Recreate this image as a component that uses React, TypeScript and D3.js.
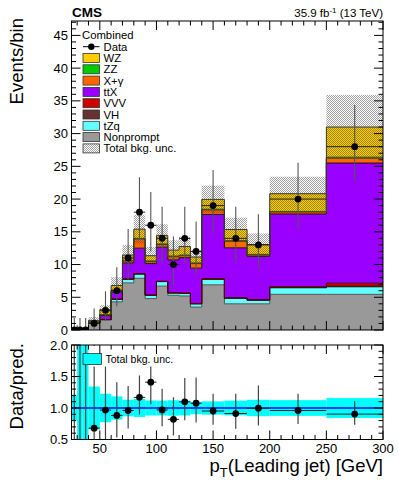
import React from 'react';
import * as d3 from 'd3';

// Bin edges (GeV)
const binEdges = [25, 30, 35, 40, 50, 60, 70, 80, 90, 100, 110, 120, 130, 140, 160, 180, 200, 250, 300];

// Observed data
const dataCounts = [0, 0, 0, 1, 3, 6, 11, 18, 16, 14, 10, 14, 12, 19, 14, 13, 20, 28];
const dataErrLow = [0, 0, 0, 0.17, 1.37, 3.62, 7.72, 13.79, 12.03, 10.29, 6.88, 10.29, 8.57, 14.67, 10.29, 9.43, 15.56, 22.73];
const dataErrHigh = [1.84, 1.84, 1.84, 3.3, 5.92, 9.58, 15.43, 23.33, 21.09, 18.84, 14.28, 18.84, 16.57, 24.44, 18.84, 17.7, 25.56, 34.36];

// Background processes (stack order bottom -> top)
const nonprompt = [0.1, 0.03, 0.03, 1.0, 1.5, 4.3, 7.2, 7.9, 4.8, 6.7, 5.3, 5.2, 3.5, 6.9, 4.0, 4.0, 5.45, 5.45];
const tZq = [0, 0, 0, 0.1, 0.1, 0.4, 0.55, 0.65, 0.5, 0.7, 0.35, 0.4, 0.5, 0.85, 0.85, 0.55, 1.0, 1.15];
const VH = [0, 0, 0, 0, 0, 0, 0, 0, 0, 0, 0, 0, 0, 0, 0, 0, 0.05, 0.1];
const VVV = [0, 0, 0, 0, 0, 0, 0.05, 0.05, 0.05, 0.05, 0.05, 0.05, 0.05, 0.1, 0.1, 0.1, 0.12, 0.45];
const ttX = [0, 0, 0, 0.1, 0.6, 1.1, 2.45, 3.9, 4.8, 5.2, 5.0, 5.4, 5.4, 9.8, 7.6, 6.6, 11.1, 18.35];
const Xgamma = [0, 0, 0, 0, 0.1, 0.2, 0.3, 1.4, 0.3, 0.4, 0.5, 0.3, 0.7, 0.7, 1.0, 0.2, 0.3, 0.75];
const ZZ = [0, 0, 0, 0.02, 0.05, 0.1, 0.1, 0.1, 0.1, 0.1, 0.1, 0.1, 0.1, 0.1, 0.1, 0.1, 0.1, 0.15];
const WZ = [0, 0, 0, 0.25, 0.75, 0.7, 0.8, 1.4, 0.8, 1.3, 0.9, 1.3, 0.9, 1.5, 1.7, 1.5, 2.7, 4.6];
const totalUnc = [0.02, 0.08, 0.08, 0.5, 0.7, 1.25, 1.5, 2.2, 1.35, 1.7, 1.5, 1.5, 1.1, 2.1, 1.8, 1.7, 2.6, 4.9];

const yTickLabelsTop = [0, 5, 10, 15, 20, 25, 30, 35, 40, 45];
const yTickLabelsRatio = ['0.5', '1.0', '1.5', '2.0'];
const xTickLabels = [50, 100, 150, 200, 250, 300];

const legendNames = ['WZ', 'ZZ', 'X+\u03b3', 'ttX', 'VVV', 'VH', 'tZq', 'Nonprompt'];

const FONT = "'Liberation Sans', Arial, Helvetica, sans-serif";

export default function App() {
  const W = 399, H = 483;
  const L = 71.5, R = 383, T1 = 21, B1 = 330, T2 = 345, B2 = 439.5;
  const n = binEdges.length - 1;

  const x = d3.scaleLinear().domain([25, 300]).range([L, R]);
  const y = d3.scaleLinear().domain([0, 47.2]).range([B1, T1]);
  const yr = d3.scaleLinear().domain([0.5, 2.0]).range([B2, T2]);

  const layerDefs = [
    { name: 'Nonprompt', values: nonprompt, color: '#999999', line: '#555555' },
    { name: 'tZq', values: tZq, color: '#66ffff', line: '#111111' },
    { name: 'VH', values: VH, color: '#663333', line: '#331111' },
    { name: 'VVV', values: VVV, color: '#cc0000', line: '#550000' },
    { name: 'ttX', values: ttX, color: '#9900ff', line: '#111111' },
    { name: 'X+\u03b3', values: Xgamma, color: '#ff6600', line: '#553300' },
    { name: 'ZZ', values: ZZ, color: '#00cc00', line: '#335500' },
    { name: 'WZ', values: WZ, color: '#ffcc00', line: '#333333' },
  ];
  let cum = d3.range(n).map(() => 0);
  const stacked = layerDefs.map((l) => {
    const lo = cum;
    const hi = cum.map((c, i) => c + l.values[i]);
    cum = hi;
    return { ...l, lo, hi };
  });
  const total = cum;

  const idx = d3.range(binEdges.length);
  const ci = (i: number) => Math.min(i, n - 1);
  const stepArea = (lo: number[], hi: number[]) =>
    d3.area<number>()
      .x((i) => x(binEdges[i]))
      .y0((i) => y(lo[ci(i)]))
      .y1((i) => y(hi[ci(i)]))
      .curve(d3.curveStepAfter)(idx) || '';
  const stepLine = (hi: number[]) =>
    d3.line<number>()
      .x((i) => x(binEdges[i]))
      .y((i) => y(hi[ci(i)]))
      .curve(d3.curveStepAfter)(idx) || '';

  const bins = d3.range(n);
  const center = (i: number) => (binEdges[i] + binEdges[i + 1]) / 2;

  // tick positions
  const xMinor = d3.range(30, 301, 10);
  const xMajor = d3.range(50, 301, 50);
  const yMinorTop = d3.range(0, 48, 1);
  const yMinorR = d3.range(0.5, 2.001, 0.1);
  const yMajorR = d3.range(0.5, 2.001, 0.5);

  const tickLines: JSX.Element[] = [];
  const addXTicks = (top: number, bottom: number, key: string) => {
    xMinor.forEach((v) => {
      const major = xMajor.includes(v);
      const len = major ? 9 : 4.5;
      tickLines.push(<line key={`${key}b${v}`} x1={x(v)} x2={x(v)} y1={bottom} y2={bottom - len} stroke="#000" strokeWidth={1} />);
      tickLines.push(<line key={`${key}t${v}`} x1={x(v)} x2={x(v)} y1={top} y2={top + len} stroke="#000" strokeWidth={1} />);
    });
  };
  addXTicks(T1, B1, 'p1');
  addXTicks(T2, B2, 'p2');
  yMinorTop.forEach((v) => {
    const major = v % 5 === 0;
    const len = major ? 9 : 4.5;
    tickLines.push(<line key={`yl${v}`} x1={L} x2={L + len} y1={y(v)} y2={y(v)} stroke="#000" />);
    tickLines.push(<line key={`yr${v}`} x1={R} x2={R - len} y1={y(v)} y2={y(v)} stroke="#000" />);
  });
  yMinorR.forEach((v, k) => {
    const major = yMajorR.some((m) => Math.abs(m - v) < 1e-6);
    const len = major ? 9 : 4.5;
    tickLines.push(<line key={`rl${k}`} x1={L} x2={L + len} y1={yr(v)} y2={yr(v)} stroke="#000" />);
    tickLines.push(<line key={`rr${k}`} x1={R} x2={R - len} y1={yr(v)} y2={yr(v)} stroke="#000" />);
  });

  const legendItems = legendNames.map((nm) => layerDefs.find((l) => l.name === nm)!);
  const legX = 83, legY0 = 46.7, legDy = 11.3;

  return (
    <svg width={W} height={H} style={{ position: 'absolute', left: 0, top: 0, background: '#fff' }} fontFamily={FONT}>
      <defs>
        <pattern id="hatch" width="2" height="2" patternUnits="userSpaceOnUse">
          <rect x="0" y="0" width="1" height="1" fill="#444" fillOpacity={0.5} />
          <rect x="1" y="1" width="1" height="1" fill="#444" fillOpacity={0.5} />
        </pattern>
        <clipPath id="clipTop"><rect x={L} y={T1} width={R - L} height={B1 - T1} /></clipPath>
        <clipPath id="clipRatio"><rect x={L} y={T2} width={R - L} height={B2 - T2} /></clipPath>
      </defs>
      <rect x={0} y={0} width={W} height={H} fill="#fff" />

      {/* ---------- Top panel ---------- */}
      <g clipPath="url(#clipTop)">
        {stacked.map((l) => (
          <path key={`a${l.name}`} d={stepArea(l.lo, l.hi)} fill={l.color} stroke="none" />
        ))}
        {stacked.map((l) => (
          <path key={`o${l.name}`} d={stepLine(l.hi)} fill="none" stroke={l.line} strokeWidth={1} />
        ))}
        {bins.map((i) => {
          const lo = Math.max(0, total[i] - totalUnc[i]);
          const hi = total[i] + totalUnc[i];
          return (
            <rect key={`h${i}`} x={x(binEdges[i])} width={x(binEdges[i + 1]) - x(binEdges[i])}
              y={y(hi)} height={y(lo) - y(hi)} fill="url(#hatch)" />
          );
        })}
        {bins.map((i) => (
          <g key={`d${i}`}>
            <line x1={x(center(i))} x2={x(center(i))} y1={y(dataErrLow[i])} y2={y(dataErrHigh[i])} stroke="#555" strokeWidth={1.1} />
            <line x1={x(binEdges[i])} x2={x(binEdges[i + 1])} y1={y(dataCounts[i])} y2={y(dataCounts[i])} stroke="#222" strokeWidth={1} />
            <circle cx={x(center(i))} cy={y(dataCounts[i])} r={3.4} fill="#000" />
          </g>
        ))}
      </g>

      {/* ---------- Ratio panel ---------- */}
      <g clipPath="url(#clipRatio)">
        {bins.map((i) => {
          const lo = (total[i] - totalUnc[i]) / total[i];
          const hi = (total[i] + totalUnc[i]) / total[i];
          const top = Math.max(T2 - 2, yr(hi));
          const bot = Math.min(B2 + 2, yr(lo));
          return (
            <rect key={`rb${i}`} x={x(binEdges[i])} width={x(binEdges[i + 1]) - x(binEdges[i])}
              y={top} height={bot - top} fill="#00ffff" />
          );
        })}
        <line x1={L} x2={R} y1={yr(1)} y2={yr(1)} stroke="#0000ff" strokeWidth={1.3} />
        {bins.map((i) => {
          const r = dataCounts[i] / total[i];
          const rl = dataErrLow[i] / total[i];
          const rh = Math.min(dataErrHigh[i] / total[i], 3);
          return (
            <g key={`rd${i}`}>
              <line x1={x(center(i))} x2={x(center(i))} y1={yr(Math.max(rl, 0.3))} y2={yr(rh)} stroke="#444" strokeWidth={1.2} />
              {dataCounts[i] > 0 && (
                <>
                  <line x1={x(binEdges[i])} x2={x(binEdges[i + 1])} y1={yr(r)} y2={yr(r)} stroke="#222" strokeWidth={1} />
                  <circle cx={x(center(i))} cy={yr(r)} r={3.4} fill="#000" />
                </>
              )}
            </g>
          );
        })}
      </g>

      {/* Ratio legend */}
      <rect x={89} y={346} width={92} height={20.5} fill="#fff" />
      <rect x={83} y={353.5} width={18.5} height={11} fill="#00ffff" stroke="#333" strokeWidth={0.8} />
      <text x={105.5} y={363} fontSize={10.5} fill="#000">Total bkg. unc.</text>

      {/* frames and ticks */}
      <rect x={L} y={T1} width={R - L} height={B1 - T1} fill="none" stroke="#000" strokeWidth={1} />
      <rect x={L} y={T2} width={R - L} height={B2 - T2} fill="none" stroke="#000" strokeWidth={1} />
      {tickLines}

      {/* tick labels */}
      {yTickLabelsTop.map((v) => (
        <text key={`ylab${v}`} x={68} y={y(v) + 4.6} fontSize={13} textAnchor="end">{v}</text>
      ))}
      {yTickLabelsRatio.map((v) => (
        <text key={`rlab${v}`} x={68} y={yr(+v) + 4.6} fontSize={13} textAnchor="end">{v}</text>
      ))}
      {xTickLabels.map((v) => (
        <text key={`xlab${v}`} x={x(v)} y={452.5} fontSize={13} textAnchor="middle">{v}</text>
      ))}

      {/* axis titles */}
      <text transform="translate(23,18) rotate(-90)" fontSize={18.5} textAnchor="end">Events/bin</text>
      <text transform="translate(23,343) rotate(-90)" fontSize={18.5} textAnchor="end">Data/pred.</text>
      <text x={R} y={472} fontSize={18.5} textAnchor="end">
        <tspan>p</tspan><tspan dy={5} fontSize={13}>T</tspan><tspan dy={-5}>(Leading jet) [GeV]</tspan>
      </text>

      {/* header */}
      <text x={72} y={16.5} fontSize={13.5} fontWeight="bold">CMS</text>
      <text x={R} y={16.5} fontSize={11.5} textAnchor="end">
        <tspan>35.9 fb</tspan><tspan dy={-4} fontSize={8}>-1</tspan><tspan dy={4}> (13 TeV)</tspan>
      </text>

      {/* top legend */}
      <text x={82} y={39} fontSize={11.3}>Combined</text>
      <line x1={legX} x2={legX + 16.5} y1={legY0} y2={legY0} stroke="#000" strokeWidth={1} />
      <circle cx={legX + 8.3} cy={legY0} r={3.2} fill="#000" />
      <text x={103.5} y={legY0 + 4} fontSize={11.3}>Data</text>
      {legendItems.map((l, k) => {
        const cy = legY0 + legDy * (k + 1);
        return (
          <g key={`lg${l.name}`}>
            <rect x={legX} y={cy - 4.5} width={16.5} height={9} fill={l.color} stroke="#333" strokeWidth={0.8} />
            <text x={103.5} y={cy + 4} fontSize={11.3}>{l.name}</text>
          </g>
        );
      })}
      {(() => {
        const cy = legY0 + legDy * 9;
        return (
          <g>
            <rect x={legX} y={cy - 4.5} width={16.5} height={9} fill="url(#hatch)" stroke="#333" strokeWidth={0.8} />
            <text x={103.5} y={cy + 4} fontSize={11.3}>Total bkg. unc.</text>
          </g>
        );
      })()}
    </svg>
  );
}
